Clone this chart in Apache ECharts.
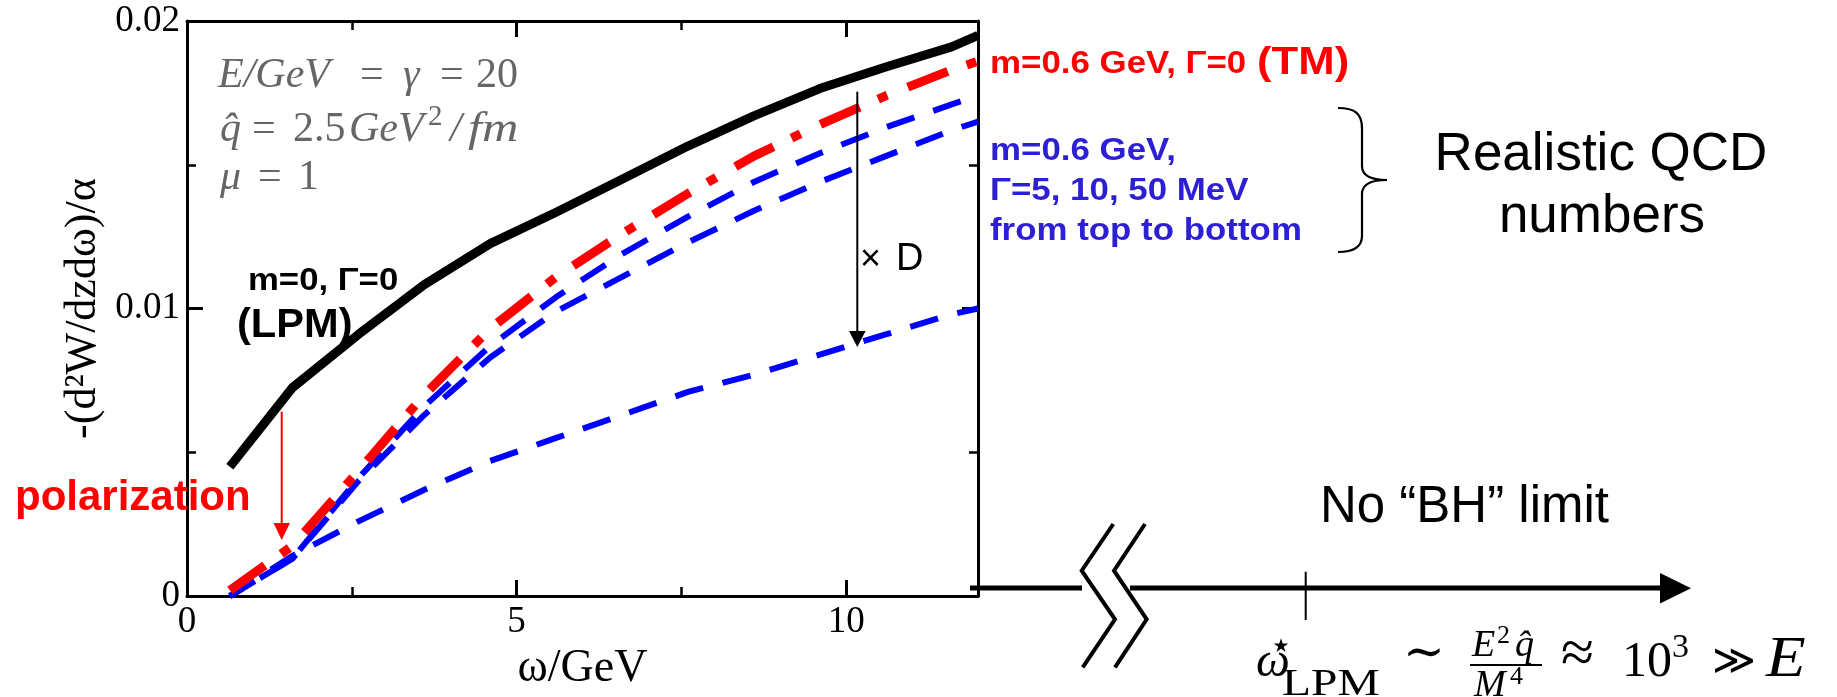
<!DOCTYPE html>
<html>
<head>
<meta charset="utf-8">
<script src="https://cdn.jsdelivr.net/npm/echarts/dist/echarts.min.js"></script>
<style>
html,body{margin:0;padding:0;background:#fff;}
#c{width:1837px;height:697px;}
</style>
</head>
<body>
<div id="c"></div>
<script>
// ---- data ----
const omega = [0.65, 1.6, 2.6, 3.6, 4.6, 5.6, 6.6, 7.6, 8.6, 9.6, 10.6, 11.6, 12.0];
const lpm   = [0.0045, 0.00725, 0.0091, 0.01083, 0.01226, 0.01335, 0.0145, 0.01565, 0.0167, 0.01765, 0.0184, 0.0191, 0.0195];
const tm    = [0.0002, 0.00175, 0.00435, 0.0070, 0.0093, 0.0111, 0.0126, 0.0140, 0.0153, 0.0164, 0.0174, 0.0183, 0.0186];
const g5    = [0.0, 0.0013, 0.0041, 0.0066, 0.0087, 0.0104, 0.0119, 0.0132, 0.0144, 0.0154, 0.0163, 0.0171, 0.0174];
const g10   = [0.0, 0.0013, 0.0040, 0.0063, 0.0083, 0.0099, 0.0111, 0.0123, 0.0134, 0.0144, 0.0153, 0.0162, 0.0165];
const g50   = [0.0, 0.0014, 0.0026, 0.0037, 0.0047, 0.0055, 0.0063, 0.0071, 0.0077, 0.0084, 0.0091, 0.0098, 0.0100];
const xMajor = 5, xMinor = 2.5, xMax = 12;
const yMajor = 0.01, yMinor = 0.005, yMax = 0.02;

const BLUE = '#0000ff', RED = '#ff0000', TXTBLUE = '#2c1fd4', GRAY = '#666666';
const SERIF = 'Liberation Serif, DejaVu Serif, serif';
const SANS = 'Liberation Sans, Arial, sans-serif';

function pairs(ys){ return omega.map((x,i)=>[x, ys[i]]); }

function txt(x, base, s, size, o){
  o = o || {};
  return {type:'text', x:x, y: base - 0.28*size, scaleX: o.sx || 1, z:100,
    style:{text:s, fontSize:size, fontFamily:o.ff || SANS, fontWeight:o.fw || 'normal',
      fontStyle:o.fs || 'normal', fill:o.c || '#000', align:o.align || 'left', verticalAlign:'middle'}};
}
function seg(x1,y1,x2,y2,w,c){
  return {type:'line', z:90, shape:{x1:x1,y1:y1,x2:x2,y2:y2}, style:{stroke:c||'#000', lineWidth:w}};
}
function bez(x1,y1,cx1,cy1,cx2,cy2,x2,y2,w){
  return {type:'bezierCurve', z:90, shape:{x1:x1,y1:y1,cpx1:cx1,cpy1:cy1,cpx2:cx2,cpy2:cy2,x2:x2,y2:y2},
    style:{stroke:'#000', lineWidth:w, fill:null}};
}
function poly(pts,c){ return {type:'polygon', z:90, shape:{points:pts}, style:{fill:c||'#000'}}; }
function pline(pts,w){ return {type:'polyline', z:90, shape:{points:pts}, style:{stroke:'#000', lineWidth:w, fill:null, lineJoin:'miter'}}; }

const tickAxis = (pos, interval, len, showLine, isX) => ({
  type:'value', position:pos, min:0, max: isX ? xMax : yMax, interval:interval,
  axisLine:{show:showLine, onZero:false, lineStyle:{color:'#000', width:3}},
  axisTick:{show:true, inside:true, length:len, lineStyle:{color:'#000', width: len > 10 ? 3 : 2.5}},
  axisLabel:{show:false}, splitLine:{show:false}
});

const xMain = tickAxis('bottom', xMajor, 16, true, true);
xMain.axisLabel = {show:true, fontFamily:SERIF, fontSize:37, color:'#000', margin:8,
  formatter: v => (Math.abs(v - xMax) < 1e-9 ? '' : String(v))};
xMain.name = 'ω/GeV'; xMain.nameLocation = 'middle'; xMain.nameGap = 35;
xMain.nameTextStyle = {fontFamily:SERIF, fontSize:46, color:'#000'};

const yMain = tickAxis('left', yMajor, 16, true, false);
yMain.axisLabel = {show:true, fontFamily:SERIF, fontSize:37, color:'#000', margin:7,
  formatter: v => (v === 0 ? '0' : v.toFixed(2))};
yMain.name = '-(d²W/dzdω)/α'; yMain.nameLocation = 'middle'; yMain.nameGap = 82; yMain.nameRotate = 90;
yMain.nameTextStyle = {fontFamily:SERIF, fontSize:44, color:'#000'};

const graphics = [
  // in-plot labels
  txt(248, 290, 'm=0, Γ=0', 31, {fw:'bold', sx:1.12}),
  txt(237, 337, '(LPM)', 40, {fw:'bold', sx:1.04}),
  txt(15, 510, 'polarization', 42, {fw:'bold', c:RED}),
  txt(860, 270, '×', 36, {}),
  txt(896, 270, 'D', 38, {}),
  // gray parameter box
  txt(218, 88, 'E/GeV', 42, {ff:SERIF, fs:'italic', c:GRAY}),
  txt(360, 88, '=', 42, {ff:SERIF, c:GRAY}),
  txt(403, 88, 'γ', 42, {ff:SERIF, fs:'italic', c:GRAY}),
  txt(440, 88, '=', 42, {ff:SERIF, c:GRAY}),
  txt(476, 88, '20', 42, {ff:SERIF, c:GRAY}),
  txt(220, 142, 'q̂', 42, {ff:SERIF, fs:'italic', c:GRAY}),
  txt(252, 142, '=', 42, {ff:SERIF, c:GRAY}),
  txt(293, 142, '2.5', 42, {ff:SERIF, c:GRAY}),
  txt(349, 142, 'GeV', 42, {ff:SERIF, fs:'italic', c:GRAY}),
  txt(428, 126, '2', 29, {ff:SERIF, c:GRAY}),
  txt(450, 142, '/', 42, {ff:SERIF, fs:'italic', c:GRAY}),
  txt(468, 142, 'fm', 42, {ff:SERIF, fs:'italic', c:GRAY, sx:1.2}),
  txt(220, 190, 'μ', 42, {ff:SERIF, fs:'italic', c:GRAY}),
  txt(258, 190, '=', 42, {ff:SERIF, c:GRAY}),
  txt(298, 190, '1', 42, {ff:SERIF, c:GRAY}),
  // right-side legend texts
  txt(990, 73, 'm=0.6 GeV, Γ=0', 32, {fw:'bold', c:RED, sx:1.09}),
  txt(1257, 74, '(TM)', 38, {fw:'bold', c:RED, sx:1.15}),
  txt(990, 160, 'm=0.6 GeV,', 32, {fw:'bold', c:TXTBLUE, sx:1.09}),
  txt(990, 200, 'Γ=5, 10, 50 MeV', 32, {fw:'bold', c:TXTBLUE, sx:1.09}),
  txt(990, 240, 'from top to bottom', 32, {fw:'bold', c:TXTBLUE, sx:1.09}),
  txt(1601, 170, 'Realistic QCD', 53, {align:'center'}),
  txt(1602, 232, 'numbers', 53, {align:'center'}),
  txt(1320, 522, 'No “BH” limit', 51, {}),
  // formula
  txt(1256, 677, 'ω', 48, {ff:SERIF, fs:'italic'}),
  txt(1281, 652, '★', 19, {ff:'DejaVu Sans', align:'center'}),
  txt(1282, 696, 'LPM', 38, {ff:SERIF, sx:1.25}),
  txt(1403, 669, '∼', 50, {ff:SERIF}),
  txt(1472, 657, 'E', 38, {ff:SERIF, fs:'italic'}),
  txt(1497, 643, '2', 26, {ff:SERIF}),
  txt(1515, 657, 'q̂', 38, {ff:SERIF, fs:'italic'}),
  txt(1474, 697, 'M', 38, {ff:SERIF, fs:'italic'}),
  txt(1510, 684, '4', 26, {ff:SERIF}),
  txt(1561, 673, '≈', 60, {ff:SERIF}),
  txt(1622, 677, '10', 50, {ff:SERIF}),
  txt(1672, 658, '3', 34, {ff:SERIF}),
  txt(1712, 675, '≫', 42, {ff:SERIF}),
  txt(1766, 677, 'E', 58, {ff:SERIF, fs:'italic', sx:1.12}),
  seg(1470, 665, 1542, 665, 2),
  // arrows
  seg(857.3, 91.7, 857.3, 333, 2),
  poly([[849,331],[865.6,331],[857.3,347]]),
  seg(281.7, 411.7, 281.7, 525, 2, RED),
  poly([[273.5,523],[290,523],[281.7,540]], RED),
  // broken omega axis
  seg(970, 588, 1082, 588, 5),
  seg(1130, 588, 1662, 588, 5),
  poly([[1660,573],[1691,588.3],[1660,603.5]]),
  pline([[1113.3,524],[1081.7,570.7],[1115,619.3],[1082.7,667.3]], 4),
  pline([[1145,524],[1114,570.7],[1146.7,619.3],[1115,667.3]], 4),
  seg(1305.7, 571.7, 1305.7, 620, 2),
  // brace
  bez(1338,108, 1354,108, 1362,113, 1362,128, 2.2),
  seg(1362,127, 1362,167, 2.2),
  bez(1362,166, 1362,175, 1370,180, 1387,180, 2.2),
  bez(1387,180, 1370,180, 1362,185, 1362,194, 2.2),
  seg(1362,193, 1362,237, 2.2),
  bez(1362,236, 1362,247, 1354,252, 1338,252, 2.2)
];

const chart = echarts.init(document.getElementById('c'), null, {renderer:'canvas'});
chart.setOption({
  animation:false,
  backgroundColor:'#fff',
  grid:{left:187, right:859, top:21, bottom:100, containLabel:false},
  xAxis:[xMain, tickAxis('bottom', xMinor, 9, false, true), tickAxis('top', xMajor, 16, true, true), tickAxis('top', xMinor, 9, false, true)],
  yAxis:[yMain, tickAxis('left', yMinor, 9, false, false), tickAxis('right', yMajor, 16, true, false), tickAxis('right', yMinor, 9, false, false)],
  series:[
    {name:'Γ=50 MeV', type:'line', data:pairs(g50), showSymbol:false, z:2,
     lineStyle:{color:BLUE, width:6, type:[29,20], cap:'butt'}},
    {name:'Γ=10 MeV', type:'line', data:pairs(g10), showSymbol:false, z:2,
     lineStyle:{color:BLUE, width:6, type:[29,20], cap:'butt'}},
    {name:'Γ=5 MeV', type:'line', data:pairs(g5), showSymbol:false, z:2,
     lineStyle:{color:BLUE, width:6, type:[29,20], cap:'butt', dashOffset:14}},
    {name:'TM', type:'line', data:pairs(tm), showSymbol:false, z:3,
     lineStyle:{color:RED, width:9, type:[43,20,10,22], cap:'butt'}},
    {name:'LPM', type:'line', data:pairs(lpm), showSymbol:false, z:4,
     lineStyle:{color:'#000', width:9, type:'solid', cap:'butt', join:'round'}}
  ],
  graphic:{elements:graphics}
});
</script>
</body>
</html>
